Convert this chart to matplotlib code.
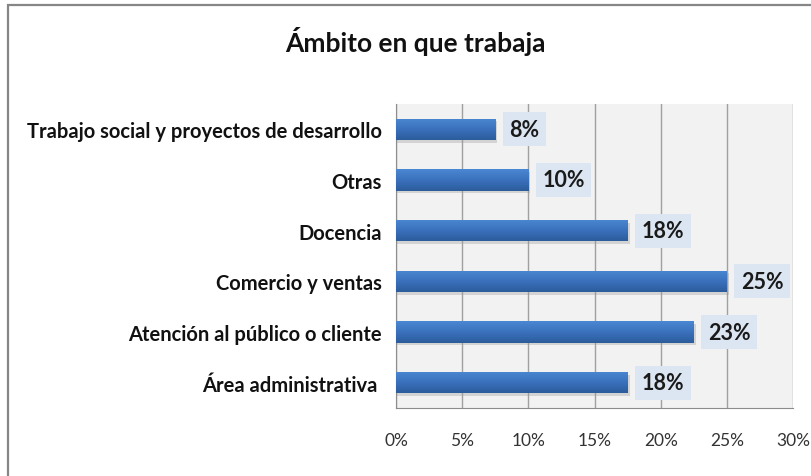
import matplotlib
matplotlib.use("Agg")
import matplotlib.pyplot as plt
import numpy as np
from matplotlib.patches import Rectangle

plt.rcParams["font.family"] = ["Lato", "DejaVu Sans"]

# datos (orden de abajo hacia arriba)
categorias = ["Área administrativa ", "Atención al público o cliente", "Comercio y ventas",
              "Docencia", "Otras", "Trabajo social y proyectos de desarrollo"]
valores = [17.5, 22.5, 25.0, 17.5, 10.0, 7.5]
etiquetas = ["18%", "23%", "25%", "18%", "10%", "8%"]
ticks = [0, 5, 10, 15, 20, 25, 30]
titulo = "Ámbito en que trabaja"

fig = plt.figure(figsize=(8.11, 4.77), dpi=100)
fig.patch.set_facecolor("white")

# marco del grafico
fig.patches.append(Rectangle((8 / 811, -0.2), 1.2, 1.2 - 6 / 477, transform=fig.transFigure,
                             fill=False, edgecolor="#868686", linewidth=1.6))

ax = fig.add_axes([396 / 811, 68 / 477, 397 / 811, 304 / 477])
ax.set_facecolor("#f2f2f2")
y = np.arange(len(categorias))
bars = ax.barh(y, valores, height=0.42, color="#3a6fb8", zorder=3)

# degradado y sombra de las barras
grad = np.linspace(0, 1, 50).reshape(-1, 1)
cmap = matplotlib.colors.LinearSegmentedColormap.from_list("b", ["#4a87d2", "#3b71bd", "#2b5c9c"])
for b in bars:
    x0, y0, w, h = b.get_x(), b.get_y(), b.get_width(), b.get_height()
    ax.add_patch(Rectangle((x0, y0 - 0.05), w + 0.15, h, facecolor="#9a9a9a", alpha=0.35,
                           edgecolor="none", zorder=2))
    im = ax.imshow(grad, cmap=cmap, aspect="auto", extent=(x0, x0 + w, y0, y0 + h),
                   origin="upper", zorder=3)
    im.set_clip_path(b)

for v, yy, lab in zip(valores, y, etiquetas):
    ax.annotate(lab, (v, yy), xytext=(10, 0), textcoords="offset points", va="center", ha="left",
                fontsize=15.5, fontweight="bold", color="#1a1a1a", zorder=5,
                bbox=dict(boxstyle="square,pad=0.3", facecolor="#dce6f2", edgecolor="none"))

ax.set_xlim(0, 30)
ax.set_ylim(-0.5, len(categorias) - 0.5)
ax.set_xticks(ticks)
ax.set_xticklabels([f"{t}%" for t in ticks], fontsize=12.5, color="#333333")
ax.set_yticks(y)
ax.set_yticklabels(categorias, fontsize=14.5, fontweight="bold", color="#111111")
ax.tick_params(axis="x", length=0, pad=17)
ax.tick_params(axis="y", length=0, pad=10)
ax.grid(axis="x", color="#a0a0a0", linewidth=1.0, zorder=1)
ax.set_axisbelow(True)
for s in ["top", "right"]:
    ax.spines[s].set_visible(False)
ax.spines["left"].set_color("#8c8c8c")
ax.spines["bottom"].set_color("#8c8c8c")

fig.text(415 / 811, 1 - 42 / 477, titulo, ha="center", va="center", fontsize=19, fontweight="bold",
         color="#111111")

fig.savefig("out.png", dpi=100)
